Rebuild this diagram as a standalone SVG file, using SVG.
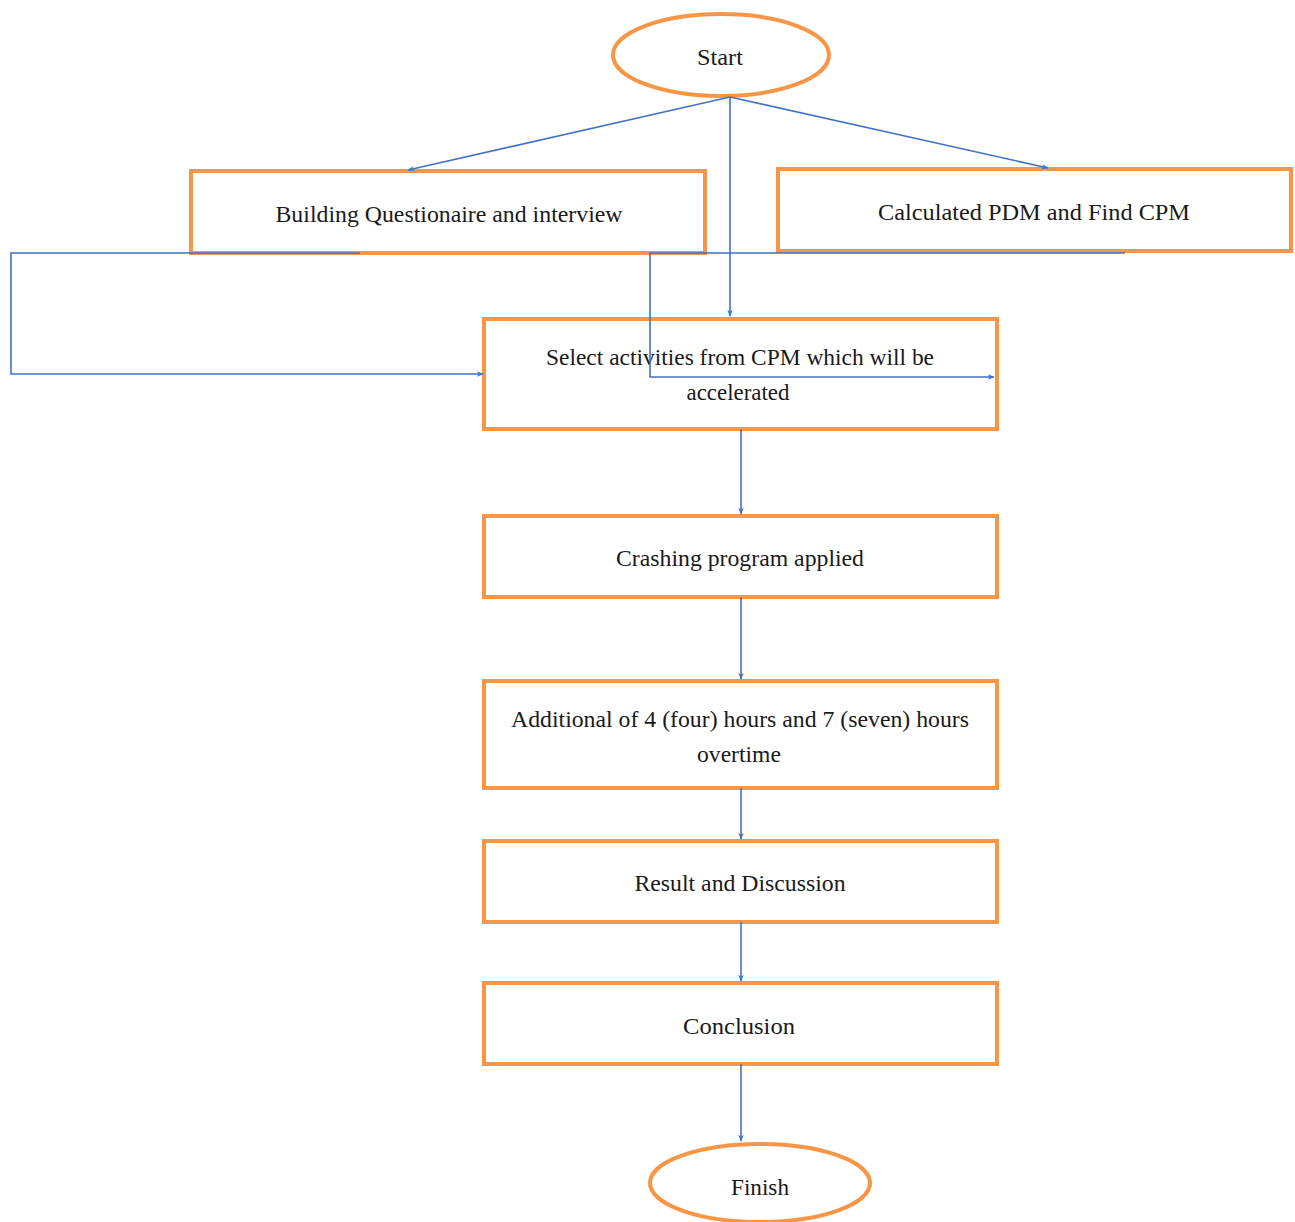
<svg xmlns="http://www.w3.org/2000/svg" width="1295" height="1222" viewBox="0 0 1295 1222">
<style>
.box{fill:#fff;stroke:#F79646;stroke-width:4}
.t{font-family:"Liberation Serif","Times New Roman",serif;font-size:24px;fill:#1a1a1a;text-anchor:middle}
.c{fill:none;stroke:#4472C4;stroke-width:1.6}
</style>
<defs>
<marker id="ah" viewBox="0 0 10 10" refX="9" refY="5" markerWidth="7" markerHeight="7" orient="auto" markerUnits="userSpaceOnUse">
<path d="M0,1 L10,5 L0,9 L3,5 Z" fill="#4472C4"/>
</marker>
</defs>
<rect width="1295" height="1222" fill="#fff"/>
<g id="start"><ellipse class="box" cx="721" cy="55" rx="108" ry="41"/><text class="t" x="720" y="65" textLength="46" lengthAdjust="spacingAndGlyphs">Start</text></g>
<g id="n1"><rect class="box" x="191" y="171" width="514" height="82"/><text class="t" x="449" y="222" textLength="347" lengthAdjust="spacingAndGlyphs">Building Questionaire and interview</text></g>
<g id="n2"><rect class="box" x="778" y="169" width="513" height="82"/><text class="t" x="1034" y="220" textLength="312" lengthAdjust="spacingAndGlyphs">Calculated PDM and Find CPM</text></g>
<g id="n3"><rect class="box" x="484" y="319" width="513" height="110"/><text class="t" x="740" y="365" textLength="388" lengthAdjust="spacingAndGlyphs">Select activities from CPM which will be</text><text class="t" x="738" y="400" textLength="103" lengthAdjust="spacingAndGlyphs">accelerated</text></g>
<g id="n4"><rect class="box" x="484" y="516" width="513" height="81"/><text class="t" x="740" y="566" textLength="248" lengthAdjust="spacingAndGlyphs">Crashing program applied</text></g>
<g id="n5"><rect class="box" x="484" y="681" width="513" height="107"/><text class="t" x="740" y="727" textLength="458" lengthAdjust="spacingAndGlyphs">Additional of 4 (four) hours and 7 (seven) hours</text><text class="t" x="739" y="762" textLength="84" lengthAdjust="spacingAndGlyphs">overtime</text></g>
<g id="n6"><rect class="box" x="484" y="841" width="513" height="81"/><text class="t" x="740" y="891" textLength="211" lengthAdjust="spacingAndGlyphs">Result and Discussion</text></g>
<g id="n7"><rect class="box" x="484" y="983" width="513" height="81"/><text class="t" x="739" y="1034" textLength="112" lengthAdjust="spacingAndGlyphs">Conclusion</text></g>
<g id="finish"><ellipse class="box" cx="760" cy="1183" rx="110" ry="39"/><text class="t" x="760" y="1195" textLength="58" lengthAdjust="spacingAndGlyphs">Finish</text></g>
<g id="connectors">
<path class="c" d="M730,97 L408,170" marker-end="url(#ah)"/>
<path class="c" d="M730,97 L1048,168" marker-end="url(#ah)"/>
<path class="c" d="M730,97 L730,316" marker-end="url(#ah)"/>
<path class="c" d="M360,253 L11,253 L11,374 L483,374" marker-end="url(#ah)"/>
<path class="c" d="M1125,253 L650,253 L650,377 L994,377" marker-end="url(#ah)"/>
<path class="c" d="M741,429 L741,514" marker-end="url(#ah)"/>
<path class="c" d="M741,597 L741,679" marker-end="url(#ah)"/>
<path class="c" d="M741,788 L741,839" marker-end="url(#ah)"/>
<path class="c" d="M741,922 L741,981" marker-end="url(#ah)"/>
<path class="c" d="M741,1064 L741,1141" marker-end="url(#ah)"/>
</g>
</svg>
